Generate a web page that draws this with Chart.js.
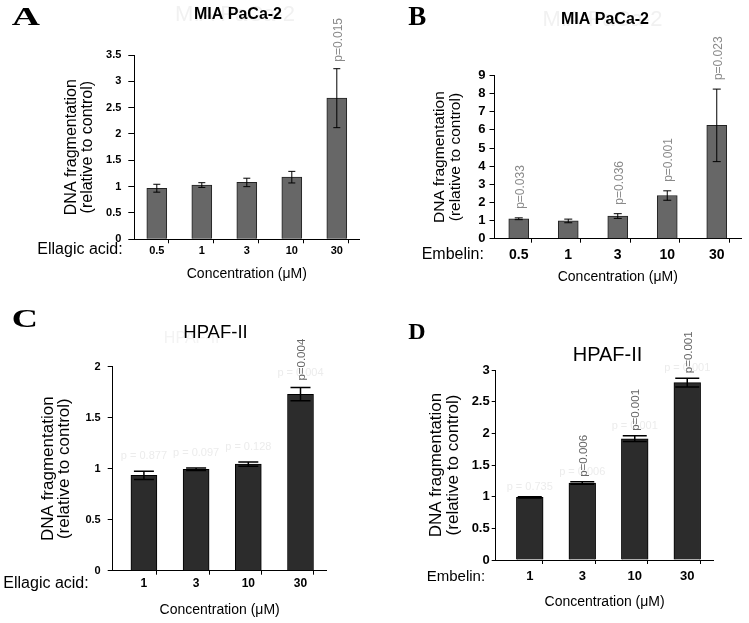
<!DOCTYPE html>
<html><head><meta charset="utf-8">
<script src="https://cdn.jsdelivr.net/npm/chart.js@4.4.1/dist/chart.umd.min.js"></script>
<style>
html,body{margin:0;padding:0;background:#fff;}
body{width:749px;height:623px;position:relative;overflow:hidden;}
canvas{position:absolute;}
</style></head><body>
<canvas id="cA" width="375" height="300" style="left:0px;top:0px;width:375px;height:300px"></canvas>
<canvas id="cB" width="374" height="300" style="left:375px;top:0px;width:374px;height:300px"></canvas>
<canvas id="cC" width="375" height="323" style="left:0px;top:300px;width:375px;height:323px"></canvas>
<canvas id="cD" width="374" height="323" style="left:375px;top:300px;width:374px;height:323px"></canvas>
<script>
// ---------------- data ----------------
const concA = ['0.5', '1', '3', '10', '30'];
const meanA = [0.97, 1.03, 1.08, 1.18, 2.68];
const errA  = [0.075, 0.045, 0.08, 0.11, 0.56];
const pA    = ['', '', '', '', 'p=0.015'];

const concB = ['0.5', '1', '3', '10', '30'];
const meanB = [1.10, 0.98, 1.25, 2.38, 6.25];
const errB  = [0.05, 0.10, 0.13, 0.26, 2.00];
const pB    = ['p=0.033', '', 'p=0.036', 'p=0.001', 'p=0.023'];

const concC = ['1', '3', '10', '30'];
const meanC = [0.935, 0.995, 1.045, 1.73];
const errC  = [0.04, 0.012, 0.02, 0.065];
const pC    = ['', '', '', 'p=0.004'];
const ghostPC = ['p = 0.877', 'p = 0.097', 'p = 0.128', 'p = 0.004'];

const concD = ['1', '3', '10', '30'];
const meanD = [0.99, 1.215, 1.915, 2.80];
const errD  = [0.01, 0.02, 0.045, 0.07];
const pD    = ['', 'p=0.006', 'p=0.001', 'p=0.001'];
const ghostPD = ['p = 0.735', 'p = 0.006', 'p = 0.001', 'p = 0.001'];

const yRangeA = [0, 3.5, 0.5];
const yRangeB = [0, 9, 1];
const yRangeC = [0, 2, 0.5];
const yRangeD = [0, 3, 0.5];

const yTitle = ['DNA fragmentation', '(relative to control)'];
const xTitle = 'Concentration (\u03bcM)';

// ---------------- fonts ----------------
function hasFont(name){
  const c = document.createElement('canvas').getContext('2d');
  const t = 'Concentration (M) 0123456789 abcdefghij';
  c.font = '40px monospace'; const a = c.measureText(t).width;
  c.font = '40px "' + name + '", monospace'; const b = c.measureText(t).width;
  return Math.abs(a - b) > 0.5;
}
const NARROW_OK = hasFont('Liberation Sans Narrow');
const SANS = '"Liberation Sans", Arial, Helvetica, sans-serif';
const NARROW = '"Liberation Sans Narrow", "Liberation Sans", Arial, sans-serif';
const SERIF = '"Liberation Serif", "DejaVu Serif", "Times New Roman", serif';
function nf(nSize, rSize, weight){
  return NARROW_OK ? {family: NARROW, size: nSize, weight: weight || 'normal'}
                   : {family: SANS, size: rSize, weight: weight || 'normal'};
}

// ---------------- panels (layout / style) ----------------
const panels = [
  { id:'cA', W:375, H:300, conc:concA, mean:meanA, err:errA, p:pA, yr:yRangeA,
    area:{left:134.3, right:359.3, top:55, bottom:239.3}, xmin:0.5, xmax:5.5,
    barW:20, barColor:'#676767', barBorder:'#222', errW:1, cap:3.5, pColor:'#8a8a8a', pGap:7, pSize:12,
    xTickFont:nf(13,11,'bold'), yTickFont:nf(13,11,'bold'), xTickY:251, yTickLen:6, yTickPad:7,
    yTitleSize:16, yTitleSpacing:15.7, yTitleX:71.7, xTitleY:274.5,
    letter:'A', letterSize:26, letterSX:1.5, letterX:11.7, letterBase:25,
    title:'MIA PaCa-2', titleFont:'bold 16px '+SANS, titleX:238, titleY:15,
    ghost:'MIA PaCa-2', ghostFont:'22px '+SANS, ghostX:235, ghostY:15, ghostColor:'#f1f1f1',
    prefix:'Ellagic acid:', prefixSize:16, prefixX:37.3, prefixY:250 },
  { id:'cB', W:374, H:300, conc:concB, mean:meanB, err:errB, p:pB, yr:yRangeB,
    area:{left:119, right:366.5, top:75.5, bottom:238.7}, xmin:0.5, xmax:5.5,
    barW:20, barColor:'#676767', barBorder:'#222', errW:1, cap:4, pColor:'#8a8a8a', pGap:9, pSize:12,
    xTickFont:{family:SANS,size:14,weight:'bold'}, yTickFont:nf(15,13,'bold'), xTickY:255, yTickLen:4.5, yTickPad:4,
    yTitleSize:15.5, yTitleSpacing:16, yTitleX:65, xTitleY:276.7,
    letter:'B', letterSize:27, letterSX:1, letterX:33.3, letterBase:25,
    title:'MIA PaCa-2', titleFont:'bold 16px '+SANS, titleX:230, titleY:20,
    ghost:'MIA PaCa-2', ghostFont:'22px '+SANS, ghostX:227.5, ghostY:20, ghostColor:'#f1f1f1',
    prefix:'Embelin:', prefixSize:16, prefixX:46.7, prefixY:255 },
  { id:'cC', W:375, H:323, conc:concC, mean:meanC, err:errC, p:pC, yr:yRangeC, ghostP:ghostPC, ghostPOff:15,
    area:{left:112.7, right:326.6, top:66.7, bottom:270.7}, xmin:0.402, xmax:4.5,
    barW:26, barColor:'#2c2c2c', barBorder:'#000', errW:1.5, cap:10, pColor:'#666', pGap:7, pSize:11.5,
    xTickFont:{family:SANS,size:12,weight:'bold'}, yTickFont:nf(13,11,'bold'), xTickY:283.3, yTickLen:5, yTickPad:7,
    yTitleSize:17, yTitleSpacing:16, yTitleX:48.3, xTitleY:310,
    letter:'C', letterSize:25, letterSX:1.45, letterX:11.7, letterBase:26.7,
    title:'HPAF-II', titleFont:'18.5px '+SANS, titleX:215.5, titleY:33.3,
    ghost:'HPAF-II', ghostFont:'16px '+SANS, ghostX:191.7, ghostY:38.3, ghostColor:'#f3f3f3',
    prefix:'Ellagic acid:', prefixSize:16, prefixX:3.3, prefixY:283.3 },
  { id:'cD', W:374, H:323, conc:concD, mean:meanD, err:errD, p:pD, yr:yRangeD, ghostP:ghostPD, ghostPOff:10,
    area:{left:120.7, right:338.5, top:70, bottom:260}, xmin:0.351, xmax:4.5,
    barW:26.7, barColor:'#2c2c2c', barBorder:'#000', errW:1.5, cap:12, pColor:'#666', pGap:5, pSize:11.5,
    xTickFont:{family:SANS,size:13,weight:'bold'}, yTickFont:{family:SANS,size:13,weight:'bold'}, xTickY:276.7, yTickLen:4, yTickPad:2,
    yTitleSize:17, yTitleSpacing:16.7, yTitleX:61.7, xTitleY:301.7,
    letter:'D', letterSize:24, letterSX:1, letterX:33.3, letterBase:39.3,
    title:'HPAF-II', titleFont:'20px '+SANS, titleX:232.5, titleY:55,
    ghost:null,
    prefix:'Embelin:', prefixSize:15, prefixX:51.7, prefixY:276.7 }
];

function makeDecor(P){
  return {
    id:'decor_'+P.id,
    beforeDraw(chart){
      const ctx = chart.ctx;
      ctx.save();
      if (P.ghost){
        ctx.font = P.ghostFont; ctx.fillStyle = P.ghostColor;
        ctx.textAlign = 'center'; ctx.textBaseline = 'middle';
        ctx.fillText(P.ghost, P.ghostX, P.ghostY);
      }
      ctx.restore();
    },
    afterDatasetsDraw(chart){
      const ctx = chart.ctx;
      const meta = chart.getDatasetMeta(0);
      const ys = chart.scales.y;
      ctx.save();
      // ghost p labels (faint, horizontal)
      if (P.ghostP){
        ctx.font = '11px ' + SANS; ctx.fillStyle = '#ececec';
        ctx.textAlign = 'center'; ctx.textBaseline = 'middle';
        meta.data.forEach((bar, i) => {
          const t = ys.getPixelForValue(P.mean[i] + P.err[i]);
          ctx.fillText(P.ghostP[i], bar.x, t - P.ghostPOff);
        });
      }
      // error bars
      ctx.strokeStyle = '#000'; ctx.lineWidth = P.errW;
      meta.data.forEach((bar, i) => {
        const x = bar.x;
        const t = ys.getPixelForValue(P.mean[i] + P.err[i]);
        const b = ys.getPixelForValue(P.mean[i] - P.err[i]);
        ctx.beginPath();
        ctx.moveTo(x, t); ctx.lineTo(x, b);
        ctx.moveTo(x - P.cap, t); ctx.lineTo(x + P.cap, t);
        ctx.moveTo(x - P.cap, b); ctx.lineTo(x + P.cap, b);
        ctx.stroke();
      });
      // p values (rotated)
      ctx.font = P.pSize + 'px ' + SANS; ctx.fillStyle = P.pColor;
      ctx.textAlign = 'left'; ctx.textBaseline = 'middle';
      meta.data.forEach((bar, i) => {
        if (!P.p[i]) return;
        const t = ys.getPixelForValue(P.mean[i] + P.err[i]);
        ctx.save();
        ctx.translate(bar.x + 1.5, t - P.pGap);
        ctx.rotate(-Math.PI / 2);
        ctx.fillText(P.p[i], 0, 0);
        ctx.restore();
      });
      // panel letter
      ctx.save();
      ctx.fillStyle = '#000';
      ctx.font = 'bold ' + P.letterSize + 'px ' + SERIF;
      ctx.textAlign = 'left'; ctx.textBaseline = 'alphabetic';
      ctx.translate(P.letterX, P.letterBase);
      ctx.scale(P.letterSX, 1);
      ctx.fillText(P.letter, 0, 0);
      ctx.restore();
      // title
      ctx.fillStyle = '#000';
      ctx.font = P.titleFont; ctx.textAlign = 'center'; ctx.textBaseline = 'middle';
      ctx.fillText(P.title, P.titleX, P.titleY);
      // prefix label
      ctx.font = P.prefixSize + 'px ' + SANS; ctx.textAlign = 'left'; ctx.textBaseline = 'middle';
      ctx.fillText(P.prefix, P.prefixX, P.prefixY);
      ctx.restore();
    }
  };
}

panels.forEach(P => {
  const n = P.conc.length;
  const xTitleFont = nf(17, 14, 'normal');
  const xTF = Object.assign({lineHeight:1}, xTitleFont);
  const xTickF = Object.assign({lineHeight:1}, P.xTickFont);
  const yTickF = Object.assign({lineHeight:1}, P.yTickFont);
  const xTickPad = P.xTickY - P.area.bottom - 4 - xTickF.size / 2;
  const xTitlePad = P.H - P.xTitleY - xTF.size / 2;
  const yTitleLH = P.yTitleSpacing / P.yTitleSize;
  const yTitlePad = P.yTitleX - P.yTitleSpacing / 2;

  new Chart(document.getElementById(P.id), {
    type: 'bar',
    data: {
      datasets: [{
        data: P.mean.map((v, i) => ({x: i + 1, y: v})),
        backgroundColor: P.barColor,
        borderColor: P.barBorder,
        borderWidth: 1,
        barThickness: P.barW
      }]
    },
    options: {
      responsive: false,
      animation: false,
      devicePixelRatio: 1,
      events: [],
      layout: { padding: { left: 0, bottom: 0, top: P.area.top, right: P.W - P.area.right } },
      plugins: { legend: {display:false}, title: {display:false}, tooltip: {enabled:false} },
      scales: {
        x: {
          type: 'linear', min: P.xmin, max: P.xmax, offset: false,
          afterBuildTicks: s => {
            const t = [];
            for (let i = 1; i <= n; i++) {
              t.push({value: i});
              if (i + 0.5 <= P.xmax + 1e-9) t.push({value: i + 0.5});
            }
            s.ticks = t;
          },
          afterFit: s => { s.height = P.H - P.area.bottom; },
          grid: {
            display: true, drawOnChartArea: false, drawTicks: true, tickLength: 4, lineWidth: 1,
            color: c => (c.tick && Number.isInteger(c.tick.value)) ? 'rgba(0,0,0,0)' : '#000'
          },
          border: { display: true, color: '#000', width: 1 },
          ticks: {
            autoSkip: false, maxRotation: 0, minRotation: 0, padding: xTickPad,
            font: xTickF, color: '#000',
            callback: v => Number.isInteger(v) ? P.conc[v - 1] : ''
          },
          title: { display: true, text: xTitle, color: '#000', font: xTF, padding: {top: 0, bottom: xTitlePad} }
        },
        y: {
          min: P.yr[0], max: P.yr[1],
          afterFit: s => { s.width = P.area.left; },
          grid: { display: true, drawOnChartArea: false, drawTicks: true, tickLength: P.yTickLen, color: '#000', lineWidth: 1 },
          border: { display: true, color: '#000', width: 1 },
          ticks: { stepSize: P.yr[2], padding: P.yTickPad, font: yTickF, color: '#000',
                   callback: v => String(Number(Number(v).toFixed(2))) },
          title: { display: true, text: yTitle, color: '#000',
                   font: {family: SANS, size: P.yTitleSize, lineHeight: yTitleLH},
                   padding: {top: yTitlePad, bottom: 0} }
        }
      }
    },
    plugins: [makeDecor(P)]
  });
});
</script>
</body></html>
